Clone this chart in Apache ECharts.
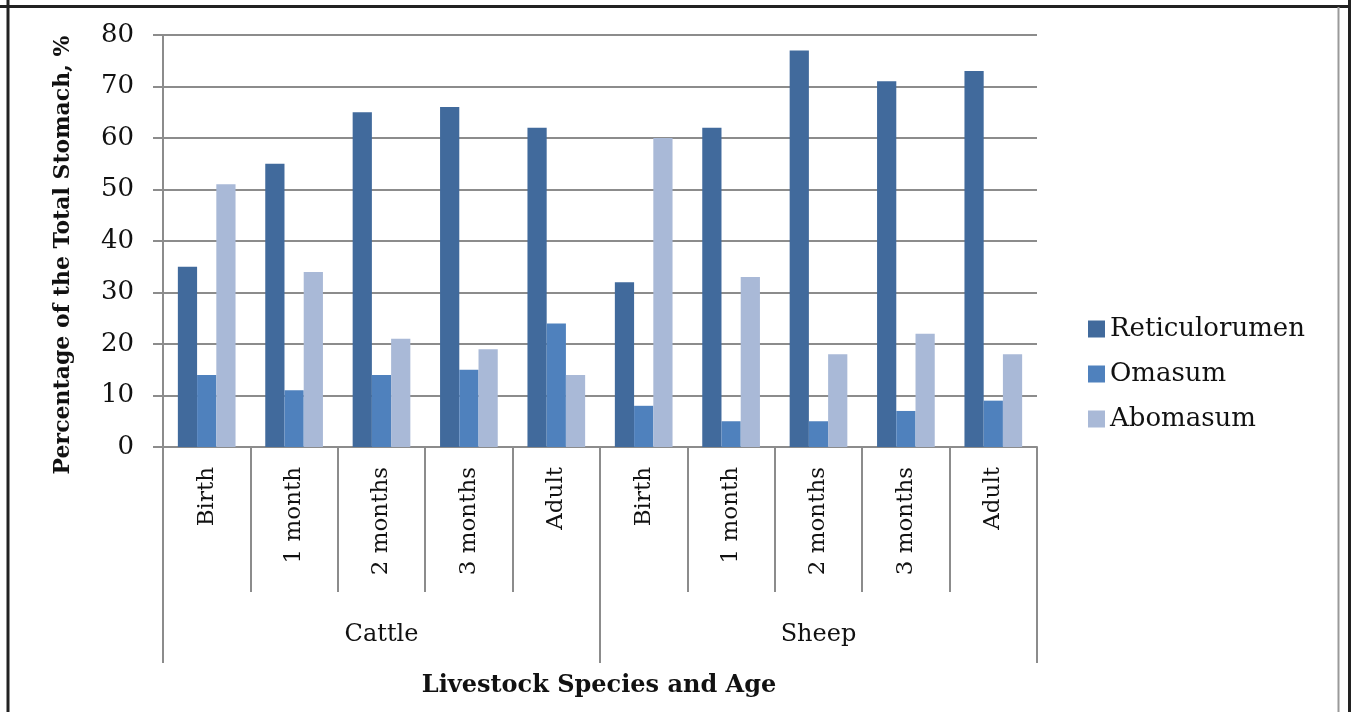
<!DOCTYPE html>
<html><head><meta charset="utf-8">
<script src="https://cdn.jsdelivr.net/npm/echarts@6/dist/echarts.min.js"></script>
<style>html,body{margin:0;padding:0;background:#fff}#c{width:1351px;height:712px}</style>
</head><body><div id="c"></div>
<script>
var ages = ['Birth','1 month','2 months','3 months','Adult','Birth','1 month','2 months','3 months','Adult'];
var species = ['Cattle','Sheep'];
var reticulorumen = [35,55,65,66,62,32,62,77,71,73];
var omasum = [14,11,14,15,24,8,5,5,7,9];
var abomasum = [51,34,21,19,14,60,33,18,22,18];
var yTicks = [0,10,20,30,40,50,60,70,80];

var F = 'DejaVu Serif';
var grey = '#8c8c8c';
var chart = echarts.init(document.getElementById('c'));
function bar(name, data, color){
  return {name:name, type:'bar', data:data, xAxisIndex:0, barGap:'0%', barCategoryGap:'34%',
    itemStyle:{color:color}, emphasis:{disabled:true}};
}
chart.setOption({
  animation:false,
  grid:{left:163, right:314, top:35, bottom:265},
  legend:{orient:'vertical', left:1083, top:311, itemWidth:17, itemHeight:17, itemGap:19,
    icon:'rect', textStyle:{fontFamily:F, fontSize:26, color:'#111'},
    data:['Reticulorumen','Omasum','Abomasum']},
  xAxis:[
    {type:'category', data:ages, position:'bottom',
     axisLine:{lineStyle:{color:grey, width:2}},
     axisTick:{show:true, interval:0, length:145, lineStyle:{color:grey, width:2}},
     axisLabel:{interval:0, rotate:90, margin:20, fontFamily:F, fontSize:23, color:'#111'}},
    {type:'category', data:species, position:'bottom',
     axisLine:{show:false},
     axisTick:{show:true, interval:0, length:216, lineStyle:{color:grey, width:2}},
     axisLabel:{interval:0, margin:176, fontFamily:F, fontSize:24, color:'#111'}}
  ],
  yAxis:{type:'value', min:0, max:80, interval:10,
    axisLine:{show:true, lineStyle:{color:grey, width:2}},
    axisTick:{show:true, inside:false, length:10, lineStyle:{color:grey, width:2}},
    splitLine:{lineStyle:{color:grey, width:2}},
    axisLabel:{margin:29, fontFamily:F, fontSize:26, color:'#111',
      formatter:function(v){return yTicks.indexOf(v)>=0?String(v):'';}}},
  series:[
    bar('Reticulorumen', reticulorumen, '#416a9c'),
    bar('Omasum', omasum, '#4f81bd'),
    bar('Abomasum', abomasum, '#a9b9d7')
  ],
  graphic:[
    {type:'text', x:599, y:686, style:{text:'Livestock Species and Age', x:0, y:0,
      textAlign:'center', textVerticalAlign:'middle', font:'bold 24px "DejaVu Serif"', fill:'#111'}},
    {type:'text', x:63, y:255, rotation:Math.PI/2, style:{text:'Percentage of the Total Stomach, %',
      x:0, y:0, textAlign:'center', textVerticalAlign:'middle', font:'bold 22px "DejaVu Serif"', fill:'#111'}},
    {type:'line', shape:{x1:8, y1:0, x2:8, y2:712}, style:{stroke:'#222', lineWidth:3}},
    {type:'line', shape:{x1:0, y1:6.5, x2:1351, y2:6.5}, style:{stroke:'#222', lineWidth:3}},
    {type:'line', shape:{x1:1349.5, y1:0, x2:1349.5, y2:712}, style:{stroke:'#222', lineWidth:3}},
    {type:'line', shape:{x1:1338.5, y1:7, x2:1338.5, y2:712}, style:{stroke:'#9a9a9a', lineWidth:2}}
  ]
});
</script></body></html>
